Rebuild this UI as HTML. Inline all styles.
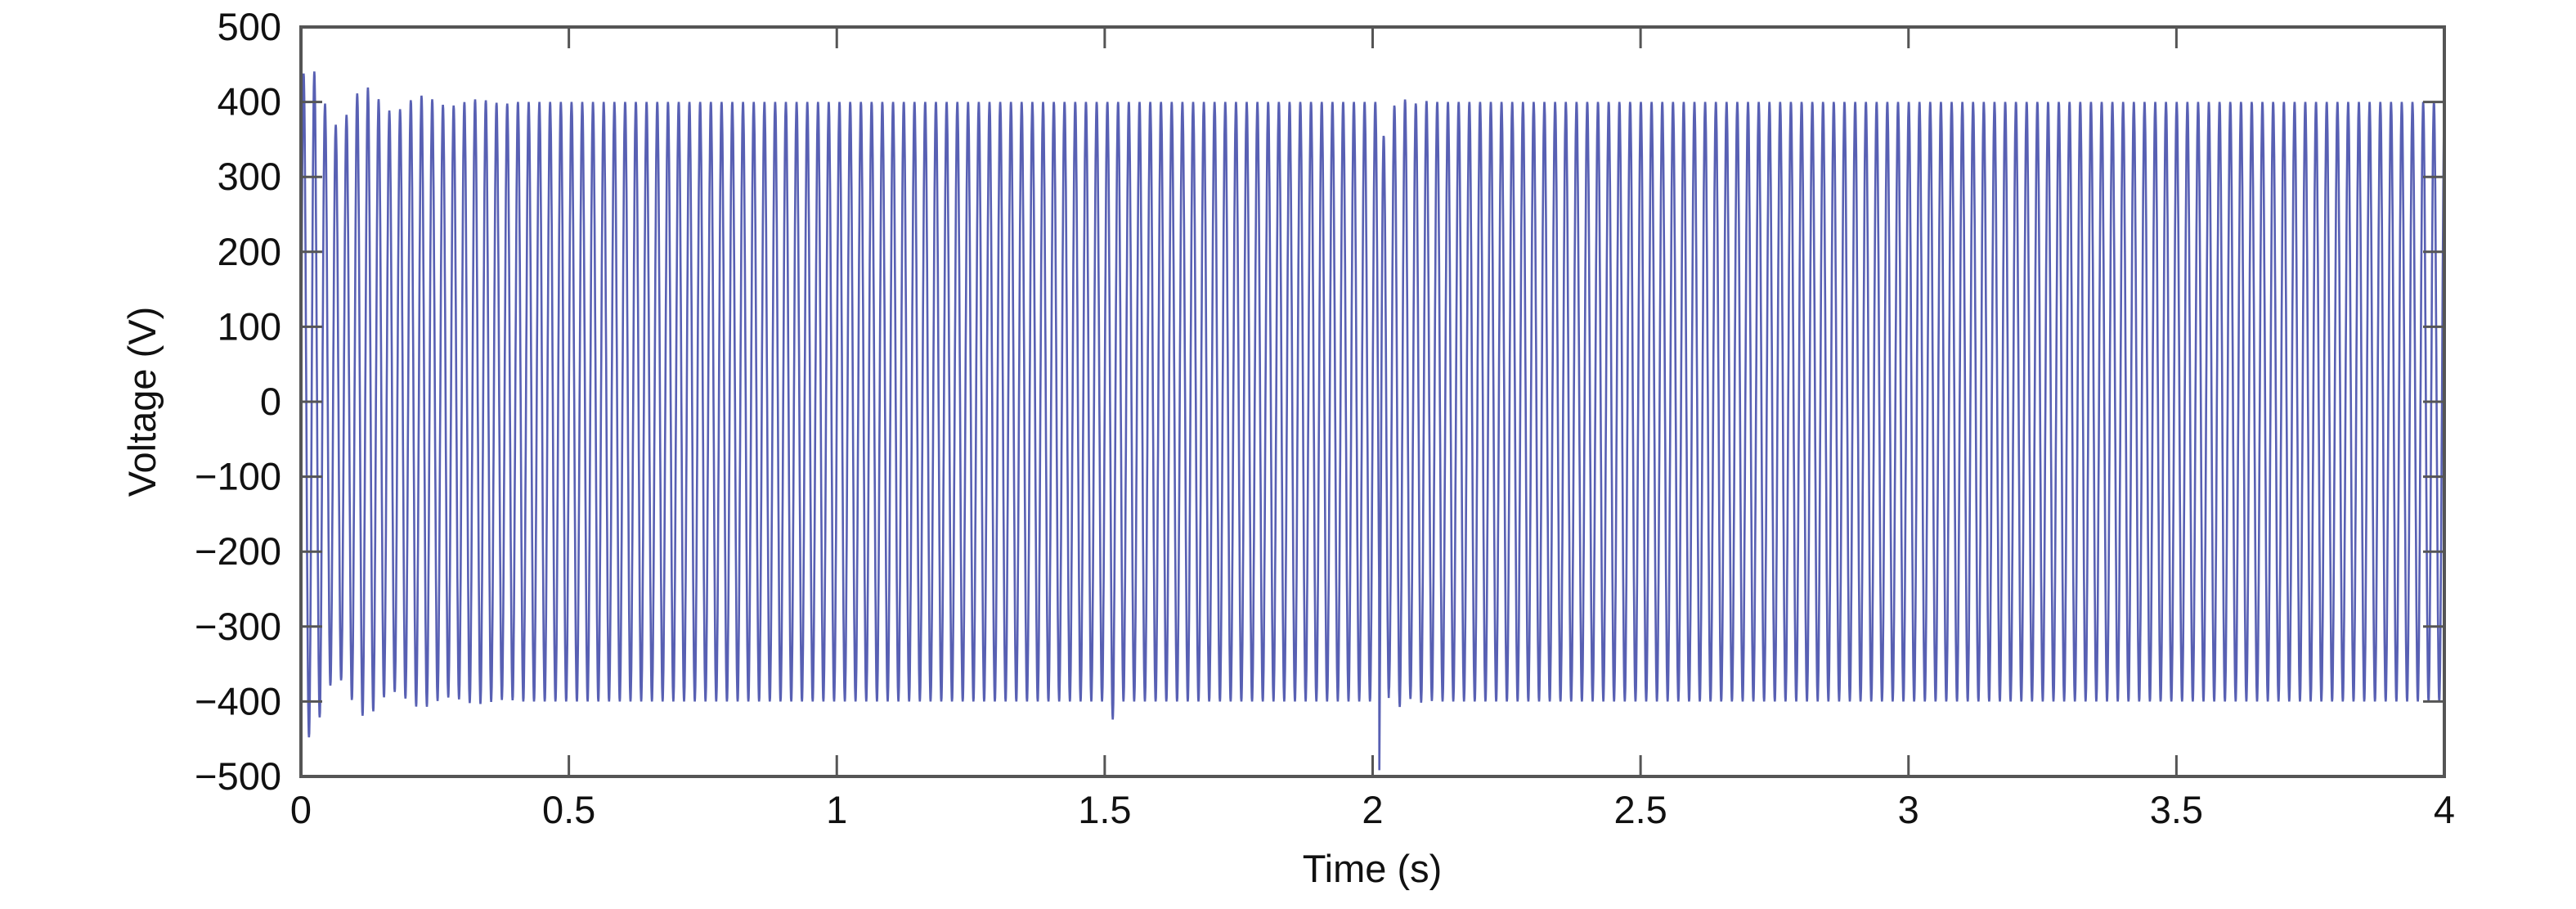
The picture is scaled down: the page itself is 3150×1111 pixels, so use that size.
<!DOCTYPE html>
<html><head><style>
body{margin:0;background:#fff;}
svg text{font-family:"Liberation Sans",sans-serif;fill:#111;}
</style></head><body>
<svg id="s" width="3150" height="1106" xmlns="http://www.w3.org/2000/svg">
<path id="p" fill="none" stroke="#3b44a6" stroke-width="2.6" stroke-opacity="0.85"/>
<g stroke="#555" stroke-width="4" fill="none">
<rect x="368" y="33" width="2621" height="916"/>
</g>
<g id="ticks" stroke="#555" stroke-width="3"></g>
<g id="lab" font-size="47"></g>
<text x="1678" y="1078" font-size="47" text-anchor="middle">Time (s)</text>
<text transform="translate(190,491) rotate(-90)" font-size="47" text-anchor="middle">Voltage (V)</text>
</svg>
<script>
var L=368,R=2989,T=33,B=949;
function X(t){return L+(R-L)*t/4;}
function Y(v){return B-(B-T)*(v+500)/1000;}
var tk=document.getElementById('ticks'),lb=document.getElementById('lab'),h='',g='';
for(var i=0;i<=8;i++){var x=X(i*0.5);h+='<line x1="'+x+'" y1="'+B+'" x2="'+x+'" y2="'+(B-26)+'"/><line x1="'+x+'" y1="'+T+'" x2="'+x+'" y2="'+(T+26)+'"/>';
g+='<text x="'+x+'" y="1006" text-anchor="middle">'+(i*0.5)+'</text>';}
for(var v=-500;v<=500;v+=100){var y=Y(v);h+='<line x1="'+L+'" y1="'+y+'" x2="'+(L+26)+'" y2="'+y+'"/><line x1="'+R+'" y1="'+y+'" x2="'+(R-26)+'" y2="'+y+'"/>';
g+='<text x="344" y="'+(y+16)+'" text-anchor="end">'+(v<0?'\u2212'+(-v):v)+'</text>';}
tk.innerHTML=h;lb.innerHTML=g;
var d='',n=0;
for(var t=0;t<=4;t+=0.0005){
 var a=400;
 if(t<0.4){a=400+55*Math.exp(-t/0.12)*Math.sin(t*60+0.5);}
 var ph=2*Math.PI*50*t;
 if(t>2.012) ph+=1.4;
 if(t>2.012&&t<2.12){a=400+30*Math.exp(-(t-2.012)/0.03)*Math.cos((t-2.012)*150);}
 var v=a*Math.sin(ph);
 if(t>2.012&&t<2.03) v-=150*Math.exp(-(t-2.012)/0.008);
 if(Math.abs(t-1.52)<0.008&&v<0)v*=1.06;
 v=Math.max(-500,Math.min(500,v));
 d+=(n++?'L':'M')+X(t).toFixed(1)+','+Y(v).toFixed(1);
}
document.getElementById('p').setAttribute('d',d);
</script>
</body></html>
